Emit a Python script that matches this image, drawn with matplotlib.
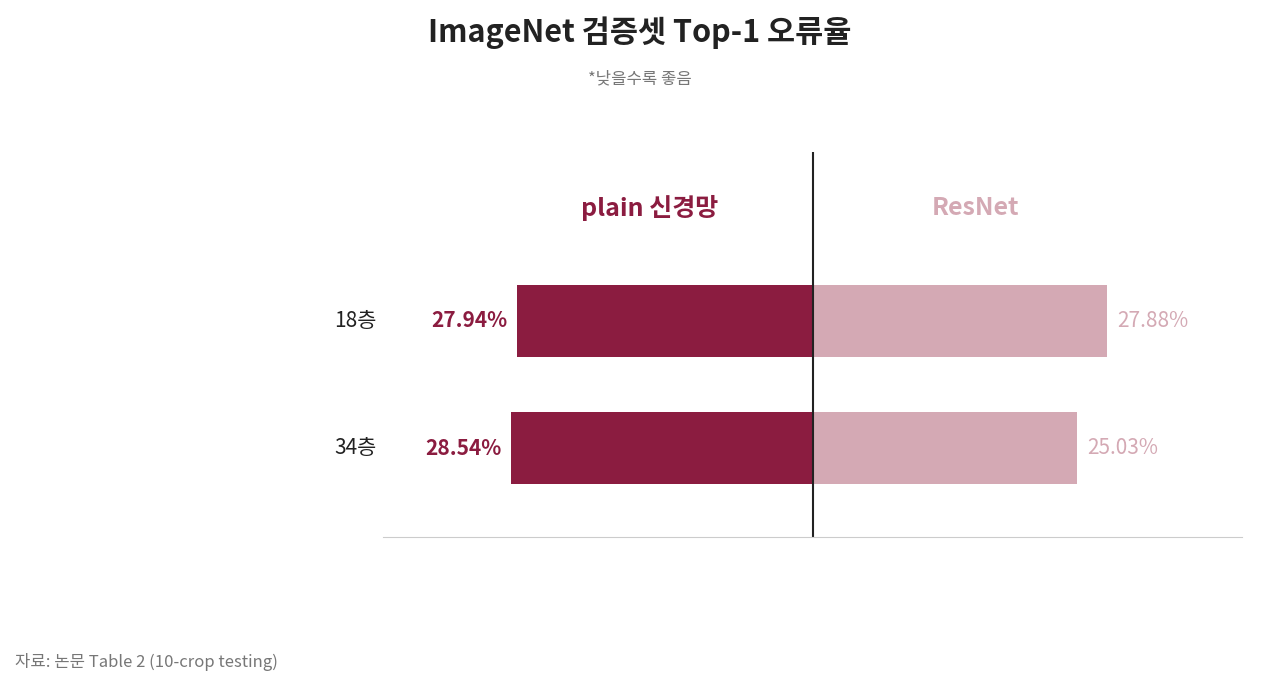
import matplotlib.pyplot as plt

plt.rcParams['font.family'] = ['Noto Sans CJK KR', 'DejaVu Sans']

layers = ['18층', '34층']
plain = [27.94, 28.54]
resnet = [27.88, 25.03]

dark = '#8b1c40'
light = '#d4a9b4'

fig = plt.figure(figsize=(12.8, 6.9), dpi=100)
ax = fig.add_axes([383 / 1280, 153 / 690, 859 / 1280, 385 / 690])

y = range(len(layers))
ax.barh(y, [-v for v in plain], height=0.56, color=dark)
ax.barh(y, resnet, height=0.56, color=light)

for i, (p, r) in enumerate(zip(plain, resnet)):
    ax.text(-p - 0.9, i, f'{p:.2f}%', ha='right', va='center',
            fontsize=15, fontweight='bold', color=dark)
    ax.text(r + 0.9, i, f'{r:.2f}%', ha='left', va='center',
            fontsize=15, color=light)
    ax.text(-40.6, i, layers[i], ha='right', va='center', fontsize=15,
            color='#222222', transform=ax.transData)

ax.text(-15.4, -0.89, 'plain 신경망', ha='center', va='center',
        fontsize=18, fontweight='bold', color=dark)
ax.text(15.4, -0.89, 'ResNet', ha='center', va='center',
        fontsize=18, fontweight='bold', color=light)

ax.axvline(0, color='#222222', lw=1.5)
ax.set_xlim(-40.6, 40.6)
ax.set_ylim(1.70, -1.33)
for s in ['top', 'left', 'right']:
    ax.spines[s].set_visible(False)
ax.spines['bottom'].set_color('#cccccc')
ax.set_xticks([])
ax.set_yticks([])

# move category labels left of the axes
for t in ax.texts:
    if t.get_text() in layers:
        t.set_position((-40.6 - 0.6, t.get_position()[1]))

fig.text(0.5, 1 - 33 / 690, 'ImageNet 검증셋 Top-1 오류율', ha='center', va='center',
         fontsize=22, fontweight='bold', color='#222222')
fig.text(0.5, 1 - 79 / 690, '*낮을수록 좋음', ha='center', va='center',
         fontsize=12, color='#777777')
fig.text(15 / 1280, 1 - 662 / 690, '자료: 논문 Table 2 (10-crop testing)', ha='left',
         va='center', fontsize=12, color='#777777')

fig.savefig('out.png', dpi=100)
